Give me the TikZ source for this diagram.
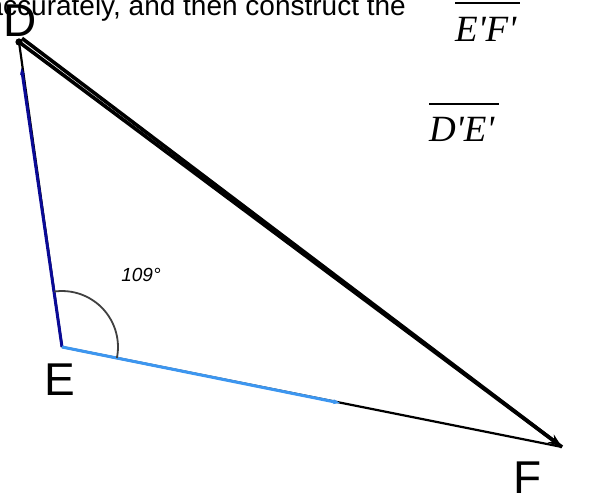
\documentclass[tikz,border=0pt]{standalone}
\usepackage{fontspec}
\setmainfont{Liberation Sans}
\newfontfamily\serifit{Liberation Serif}
\usetikzlibrary{arrows.meta,calc}
\definecolor{lightblue}{RGB}{60,150,240}
\definecolor{darkblue}{RGB}{10,10,150}
\tikzset{
  vlabel/.style={font=\fontsize{46}{50}\selectfont, inner sep=0pt},
  primelabel/.style={font=\serifit\itshape\fontsize{37}{40}\selectfont, inner sep=0pt, anchor=base west},
  thinedge/.style={line width=2.2pt, black},
  thickedge/.style={line width=3.6pt, black},
  vecedge/.style={line width=3pt, -{Stealth[length=7pt,width=5pt]}},
}
\begin{document}
\begin{tikzpicture}[x=1pt,y=-1pt]
\useasboundingbox (0,0) rectangle (613,502);
\clip (0,0) rectangle (613,502);
% points
\coordinate (D) at (19,42);
\coordinate (D2) at (22.0,38.3);
\coordinate (E) at (62,347);
\coordinate (F) at (562,447);
\coordinate (Dtip) at (21.5,68);
\coordinate (Ftip) at (340,403);
\coordinate (A0) at (116.9,358);
\coordinate (ol1) at (0,3);
\coordinate (ol2) at (0,104);
% top text
\node[anchor=base east, inner sep=0pt, font=\fontsize{28}{32}\selectfont] (top) at (406,16) {accurately, and then construct the};
% edges
\draw[thinedge] (E) -- (F);
\draw[thinedge] (E) -- (D);
\draw[thickedge] (D) -- (F);
\draw[thickedge, -{Stealth[length=14pt,width=10pt]}] (D2) -- (F);
\draw[vecedge, darkblue] (E) -- (Dtip);
\draw[vecedge, lightblue] (E) -- (Ftip);
\fill (D) circle (3.6pt);
% angle arc
\draw[line width=1.8pt, black!75] (A0) arc[start angle=11.3, end angle=-98.2, radius=56];
\node[font=\itshape\fontsize{19}{21}\selectfont, inner sep=0pt] (ang) at (141,275) {109°};
% vertex labels
\node[vlabel] (lD) at (20,21) {D};
\node[vlabel] (lE) at (60,380) {E};
\node[vlabel] (lF) at (528,478) {F};
% overlined labels
\node[primelabel] (ef) at (455,42) {E'F'};
\draw[line width=1.4pt] (ef.west |- ol1) -- ([xshift=4pt]ef.east |- ol1);
\node[primelabel] (de) at (429,142) {D'E'};
\draw[line width=1.4pt] (de.west |- ol2) -- ([xshift=4pt]de.east |- ol2);
\end{tikzpicture}
\end{document}
